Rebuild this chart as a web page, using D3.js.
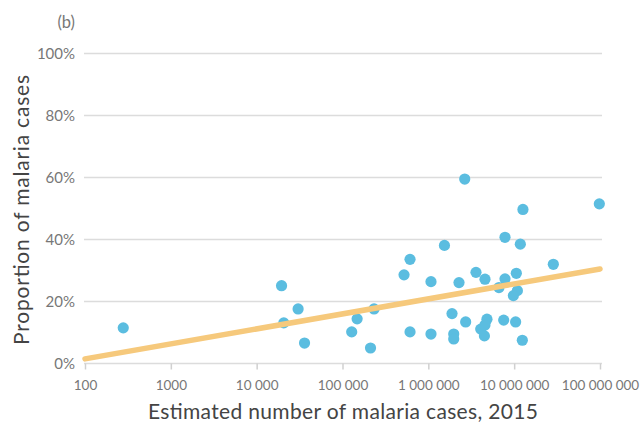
<!DOCTYPE html>
<html><head><meta charset="utf-8">
<script src="https://cdn.jsdelivr.net/npm/d3@7"></script>
<style>html,body{margin:0;padding:0;background:#fff;}svg{display:block;font-family:Lato,"Open Sans",sans-serif;}</style>
</head><body>
<svg id="chart" width="640" height="423"></svg>
<script>
const cases = [279, 19500, 20700, 30400, 36100, 128000, 148000, 233000, 212000, 521000,
  612000, 612000, 1074000, 1074000, 1540000, 1888000, 1977000, 1977000, 2276000, 2655000,
  2723000, 3590000, 4570000, 4075000, 4500000, 4820000, 4570000, 6650000, 7820000, 7820000,
  7550000, 10600000, 10900000, 9790000, 10400000, 11800000, 12650000, 12450000, 28600000, 98200000];
const proportion = [11.5, 25.1, 13.1, 17.6, 6.6, 10.2, 14.4, 17.6, 5.0, 28.6,
  33.6, 10.2, 26.4, 9.5, 38.1, 16.1, 9.5, 7.9, 26.1, 59.5,
  13.4, 29.4, 27.2, 11.1, 8.9, 14.3, 12.4, 24.5, 40.7, 27.3,
  14.0, 29.1, 23.5, 21.9, 13.4, 38.5, 49.7, 7.5, 32.0, 51.5];
const trendX = [100, 100000000];
const trendY = [1.5, 30.5];
const xTicks = [100, 1000, 10000, 100000, 1000000, 10000000, 100000000];
const xTickLabels = ["100", "1000", "10 000", "100 000", "1 000 000", "10 000 000", "100 000 000"];
const yTicks = [0, 20, 40, 60, 80, 100];
const yTickLabels = ["0%", "20%", "40%", "60%", "80%", "100%"];

const svg = d3.select("#chart");
const x = d3.scaleLog().domain([100, 1e8]).range([85, 600]);
const y = d3.scaleLinear().domain([0, 100]).range([363.5, 53.5]);

// gridlines
svg.append("g").selectAll("line").data(yTicks).join("line")
  .attr("x1", 84).attr("x2", 602)
  .attr("y1", d => y(d)).attr("y2", d => y(d))
  .attr("stroke", "#dcdcdc").attr("stroke-width", 1.5);

// y tick labels
svg.append("g").selectAll("text").data(yTicks).join("text")
  .attr("x", 75).attr("y", d => y(d)).attr("dy", "0.35em")
  .attr("text-anchor", "end").attr("fill", "#777").attr("font-size", 15)
  .text((d, i) => yTickLabels[i]);

// x axis
const xAxis = d3.axisBottom(x).tickValues(xTicks)
  .tickFormat((d, i) => xTickLabels[i]).tickSize(6).tickPadding(11);
const gx = svg.append("g").attr("transform", `translate(0,${y(0)})`).call(xAxis);
gx.select(".domain").remove();
gx.selectAll(".tick line").attr("stroke", "#d0d0d0").attr("stroke-width", 1.5);
gx.selectAll(".tick text").attr("fill", "#777").attr("font-size", 13.5)
  .attr("font-family", "Lato, 'Open Sans', sans-serif");

// points
svg.append("g").selectAll("circle").data(cases).join("circle")
  .attr("cx", d => x(d)).attr("cy", (d, i) => y(proportion[i]))
  .attr("r", 5.6).attr("fill", "#5bbde0");

// trend line
svg.append("path")
  .datum(trendX.map((d, i) => [d, trendY[i]]))
  .attr("d", d3.line().x(d => x(d[0])).y(d => y(d[1])))
  .attr("stroke", "#f6c97c").attr("stroke-width", 5.5)
  .attr("stroke-linecap", "round").attr("fill", "none");

// labels
svg.append("text").attr("x", 75).attr("y", 22).attr("dy", "0.35em")
  .attr("text-anchor", "end").attr("fill", "#777").attr("font-size", 16.5).text("(b)");

svg.append("text").attr("x", 343).attr("y", 419)
  .attr("text-anchor", "middle").attr("fill", "#444").attr("font-size", 21)
  .attr("textLength", 390).attr("lengthAdjust", "spacing")
  .text("Estimated number of malaria cases, 2015");

svg.append("text").attr("transform", "translate(29,210) rotate(-90)")
  .attr("text-anchor", "middle").attr("fill", "#444").attr("font-size", 21)
  .attr("textLength", 270).attr("lengthAdjust", "spacing")
  .text("Proportion of malaria cases");
</script>
</body></html>
